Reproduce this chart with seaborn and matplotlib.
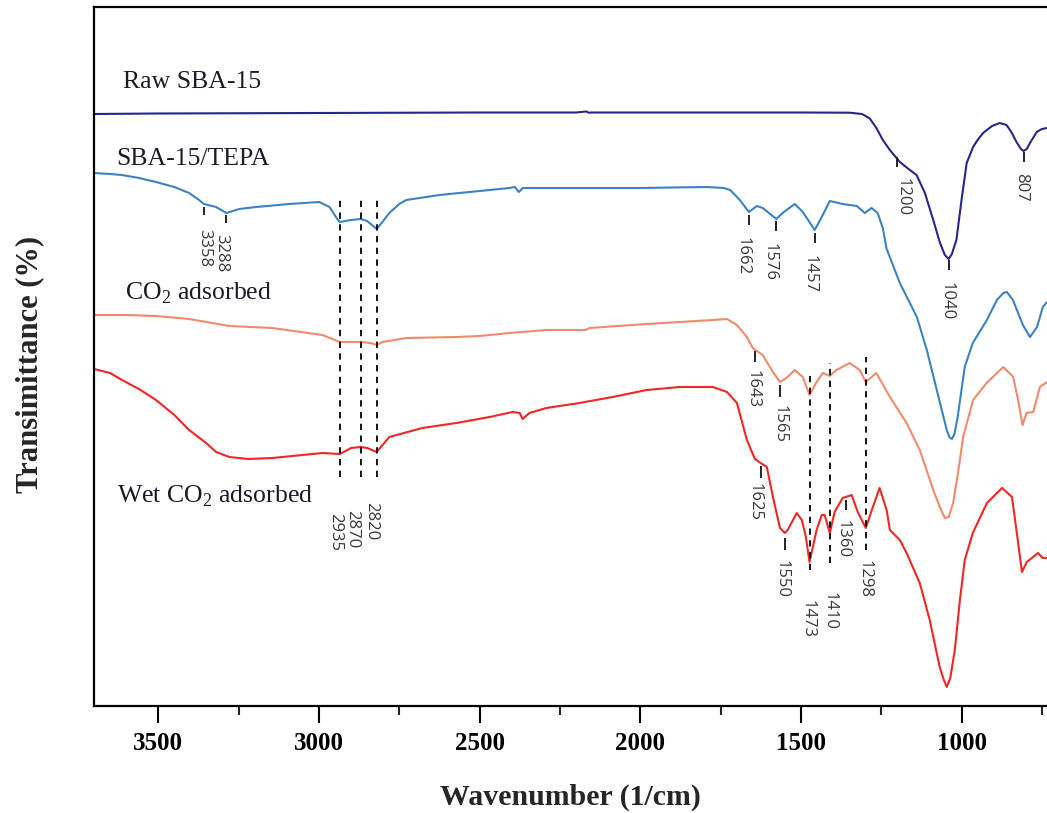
import matplotlib
matplotlib.use("Agg")
import matplotlib.pyplot as plt
import seaborn as sns
from matplotlib.ticker import MultipleLocator

# ---------------- FTIR spectra (wavenumber in 1/cm, stacked transmittance, a.u.) ----------------
wn_raw = [3700, 3500, 3000, 2500, 2200, 2168, 2160, 2152, 1800, 1500, 1348, 1310, 1286, 1265,
          1245, 1223, 1192, 1165, 1140, 1114, 1088, 1068, 1052, 1040, 1030, 1016, 1000, 984,
          964, 950, 933, 905, 881, 860, 845, 829, 815, 807, 797, 787, 766, 750, 734]
t_raw = [592, 592.5, 593, 593.5, 593.5, 594.5, 593.3, 593.5, 593.5, 593.5, 593.3, 592, 587.7, 578,
         566, 556, 544, 537, 531, 513, 486, 464, 451, 447, 452, 466, 506, 543,
         559, 566, 573, 580, 583, 581, 574, 564, 557, 555, 557, 563, 574, 577, 578]

wn_tepa = [3700, 3650, 3613, 3560, 3507, 3450, 3404, 3373, 3358, 3320, 3288, 3248, 3195,
           3092, 2999, 2967, 2945, 2935, 2900, 2870, 2850, 2820, 2800, 2781,
           2750, 2728, 2625, 2469, 2407, 2390, 2378, 2365, 2200, 2002, 1792,
           1740, 1720, 1690, 1662, 1637, 1619, 1576, 1557, 1519, 1494,
           1457, 1435, 1410, 1370, 1326, 1301, 1280, 1261, 1245, 1233, 1192,
           1139, 1108, 1077, 1060, 1046, 1038, 1030, 1022, 1012, 990, 965, 921, 890,
           870, 859, 840, 809, 787, 765, 747, 734]
t_tepa = [533, 532, 531, 528, 524, 519, 513, 506, 502, 499, 493, 497, 499,
          502, 504, 499, 488, 484, 486, 487, 485, 477, 485, 493,
          502, 506, 511, 516, 518, 519, 514, 518, 518, 518, 519,
          518, 516, 506, 494, 500, 498, 487, 493, 502, 494,
          476, 489, 505, 502, 500, 493, 498, 493, 478, 457, 423,
          389, 356, 316, 294, 276, 269, 267, 272, 289, 339, 363, 386, 406,
          413, 414, 406, 381, 369, 379, 399, 404]

wn_co2 = [3700, 3600, 3507, 3404, 3279, 3145, 2989, 2950, 2935, 2870, 2840,
          2820, 2803, 2728, 2572, 2500, 2407, 2292, 2170, 2158, 1980,
          1774, 1730, 1699, 1668, 1650, 1619, 1587, 1565, 1545, 1519,
          1494, 1473, 1451, 1432, 1410, 1389, 1348, 1317, 1298, 1265,
          1223, 1171, 1130, 1088, 1065, 1052, 1040, 1026, 1010, 995, 964, 922, 870,
          839, 824, 810, 798, 777, 756, 734]
t_co2 = [391, 391, 390, 387, 380, 378, 371, 366, 364, 364, 363,
         361, 364, 368, 369, 370, 373, 376, 376, 378, 382,
         386, 387, 381, 369, 358, 351, 334, 324, 328, 336,
         329, 311, 324, 333, 330, 336, 343, 336, 324, 333,
         309, 283, 256, 216, 197, 188, 189, 203, 235, 269, 306, 323, 339,
         329, 306, 281, 293, 294, 319, 324]

wn_wet = [3700, 3650, 3613, 3560, 3507, 3450, 3404, 3351, 3320, 3279, 3220, 3145, 2989, 2935, 2900,
          2870, 2850, 2820, 2781, 2678, 2572, 2469, 2397, 2375, 2366,
          2345, 2292, 2189, 2086, 1980, 1877, 1774, 1730, 1699, 1668,
          1643, 1625, 1606, 1587, 1565, 1550, 1541, 1513, 1497, 1485,
          1473, 1451, 1435, 1426, 1410, 1395, 1370, 1342, 1323, 1298,
          1276, 1255, 1233, 1223, 1192, 1171, 1130, 1099, 1068, 1055, 1046, 1035,
          1021, 1005, 990, 965, 921, 874, 843, 825, 812, 797, 781,
          762, 747, 734]
t_wet = [337, 333, 326, 317, 306, 291, 276, 263, 254, 249, 247, 248, 253, 252, 258,
         259, 258, 254, 269, 278, 283, 289, 294, 293, 287,
         293, 298, 303, 309, 316, 319, 319, 314, 303, 266,
         247, 243, 239, 209, 178, 173, 176, 193, 186, 170,
         144, 176, 191, 191, 173, 194, 208, 211, 194, 178,
         199, 218, 196, 176, 166, 153, 123, 86, 39, 26, 19, 28,
         56, 106, 146, 173, 203, 218, 209, 166, 134, 144, 148,
         153, 148, 148]

series_names = ["Raw SBA-15", "SBA-15/TEPA", "CO$_\\mathregular{2}$ adsorbed",
                "Wet CO$_\\mathregular{2}$ adsorbed"]

# assigned bands (1/cm)
peaks_single = [1200, 1040, 807, 3358, 3288, 1662, 1576, 1457, 1643, 1565, 1625, 1550, 1360]
bands_ch = [2935, 2870, 2820]
bands_shared = [1473, 1410, 1298]
x_ticks = [3500, 3000, 2500, 2000, 1500, 1000]

# ---------------- layout of annotations ----------------
# per single peak: (tick top, tick bottom, label x, label top)
single_layout = [
    (549, 539, 1185, 528), (446, 436, 1046, 424), (554, 544, 816, 533),
    (499, 491, 3357, 477), (491, 483, 3304, 472), (491, 481, 1681, 469),
    (485, 475, 1597, 463), (473, 463, 1473, 451), (355, 344, 1652, 336),
    (321, 309, 1566, 301), (240, 228, 1643, 223), (168, 156, 1560, 146),
    (206, 196, 1370, 186),
]
ch_span = (508, 229)
ch_label = [(2950, 193), (2897, 196), (2838, 204)]
shared_span = [(333, 136), (343, 143), (349, 156)]
shared_label = [(1480, 106), (1410, 114), (1301, 146)]
name_pos = [(3610, 618), (3632, 541), (3604, 406), (3628, 204)]
colors = ["#26268e", "#3b82c4", "#f08a6c", "#f42525"]

# ---------------- style ----------------
sns.set_style("white")
plt.rcParams["font.family"] = ["Liberation Serif", "DejaVu Serif"]
plt.rcParams["mathtext.fontset"] = "custom"
plt.rcParams["mathtext.rm"] = "Liberation Serif"

fig = plt.figure(figsize=(10.47, 8.13), dpi=100)
ax = fig.add_axes([94 / 1047, 107 / 813, (1047 - 94) / 1047, 699 / 813])

spectra = [(wn_raw, t_raw), (wn_tepa, t_tepa), (wn_co2, t_co2), (wn_wet, t_wet)]
for (wn, t), c in zip(spectra, colors):
    sns.lineplot(x=wn, y=t, ax=ax, color=c, lw=1.5, sort=False, estimator=None, legend=False)

for name, (nx, ny) in zip(series_names, name_pos):
    ax.text(nx, ny, name, fontsize=18.5, color="#1a1a2a", ha="left", va="baseline")

label_font = dict(rotation=270, ha="center", va="top", fontsize=12,
                  family=["Open Sans", "DejaVu Sans"], color="#383838")

for p, (y0, y1, lx, ly) in zip(peaks_single, single_layout):
    ax.plot([p, p], [y0, y1], color="#222222", lw=1.4, solid_capstyle="butt")
    ax.text(lx, ly, str(p), **label_font)

for b, (lx, ly) in zip(bands_ch, ch_label):
    ax.vlines(b, ch_span[1], ch_span[0], colors="black", linestyles=(0, (3.5, 3)), lw=1.3)
    ax.text(lx, ly, str(b), **label_font)

for b, (y0, y1), (lx, ly) in zip(bands_shared, shared_span, shared_label):
    ax.vlines(b, y1, y0, colors="black", linestyles=(0, (3.5, 3)), lw=1.3)
    ax.text(lx, ly, str(b), **label_font)

ax.set_xlim(3700, 734)
ax.set_ylim(0, 699)
ax.set_xticks(x_ticks)
ax.set_xticklabels([str(v) for v in x_ticks], fontweight="bold", fontsize=18)
ax.xaxis.set_minor_locator(MultipleLocator(250))
ax.set_yticks([])
ax.tick_params(axis="x", which="major", direction="out", length=12, width=1.5, pad=7,
               bottom=True, colors="black")
ax.tick_params(axis="x", which="minor", direction="out", length=6.5, width=1.5, bottom=True)

for side in ["left", "bottom", "top"]:
    ax.spines[side].set_linewidth(1.6)
    ax.spines[side].set_color("black")
ax.spines["right"].set_visible(False)

ax.set_xlabel("Wavenumber (1/cm)", fontsize=21.5, fontweight="bold")
ax.set_ylabel("Transimittance (%)", fontsize=22, fontweight="bold")
ax.xaxis.set_label_coords(0.5, -(797 - 706) / 699)
ax.xaxis.label.set_va("center")
ax.yaxis.set_label_coords((30 - 94) / 953, (706 - 364) / 699)
ax.yaxis.label.set_va("center")
ax.yaxis.label.set_ha("center")

fig.savefig("out.png", dpi=100, facecolor="white")
